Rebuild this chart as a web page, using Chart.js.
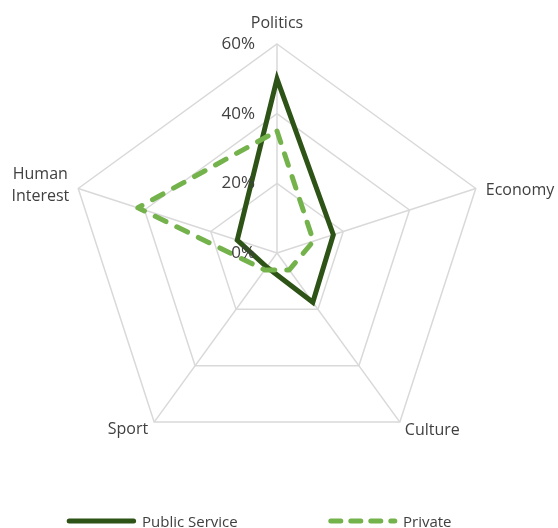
<!DOCTYPE html>
<html><head><meta charset="utf-8">
<script src="https://cdn.jsdelivr.net/npm/chart.js@4.4.0/dist/chart.umd.min.js"></script>
<style>html,body{margin:0;padding:0;background:#fff;}#wrap{width:558px;height:528px;position:relative;}</style>
</head><body><div id="wrap"><canvas id="c" width="558" height="528"></canvas></div>
<script>
const categories = ['Politics', 'Economy', 'Culture', 'Sport', ['Human', 'Interest']];
const publicService = [50, 17, 17.5, 5, 12];
const privateSector = [35, 11, 6, 6, 42];
const tickValues = [0, 20, 40, 60];
const tickLabels = ['0%', '20%', '40%', '60%'];
const seriesNames = ['Public Service', 'Private'];

const DARK = '#2e5316';
const LIGHT = '#74b24b';
const TEXT = '#404040';
const FONT = '"Open Sans", "Noto Sans", sans-serif';

const labelPlugin = {
  id: 'customLabels',
  afterDraw(chart) {
    const ctx = chart.ctx, s = chart.scales.r;
    ctx.save();
    ctx.fillStyle = TEXT;
    // tick labels, left of the vertical axis
    ctx.font = '17px ' + FONT;
    ctx.textAlign = 'right';
    ctx.textBaseline = 'middle';
    tickValues.forEach((v, i) => {
      const d = s.getDistanceFromCenterForValue(v);
      ctx.fillText(tickLabels[i], s.xCenter - 22, s.yCenter - d);
    });
    // point labels
    ctx.font = '16px ' + FONT;
    ctx.textBaseline = 'alphabetic';
    categories.forEach((lab, i) => {
      const p = s.getPointPosition(i, s.drawingArea);
      const lines = Array.isArray(lab) ? lab : [lab];
      const deg = ((s.getIndexAngle(i) * 180 / Math.PI) % 360 + 360) % 360;
      const lh = 22;
      if (deg < 1 || deg > 359) {
        ctx.textAlign = 'center';
        lines.forEach((t, k) => ctx.fillText(t, p.x, p.y - 16 - (lines.length - 1 - k) * lh));
      } else if (deg < 90) {
        ctx.textAlign = 'left';
        lines.forEach((t, k) => ctx.fillText(t, p.x + 10, p.y + 6.5 + (k - (lines.length - 1) / 2) * lh));
      } else if (deg < 180) {
        ctx.textAlign = 'left';
        lines.forEach((t, k) => ctx.fillText(t, p.x + 5, p.y + 13 + k * lh));
      } else if (deg < 270) {
        ctx.textAlign = 'right';
        lines.forEach((t, k) => ctx.fillText(t, p.x - 6, p.y + 12 + k * lh));
      } else {
        ctx.textAlign = 'center';
        const w = Math.max(...lines.map(t => ctx.measureText(t).width));
        const cx = p.x - 9 - w / 2;
        lines.forEach((t, k) => ctx.fillText(t, cx, p.y + 1.5 + (k - (lines.length - 1) / 2) * lh));
      }
    });
    // legend
    ctx.font = '15px ' + FONT;
    const ly = 521;
    const ds = chart.data.datasets;
    const items = [
      { ds: ds[1], x0: 69.2, x1: 133.6, tx: 142, dash: [] },
      { ds: ds[0], x0: 330.8, x1: 394.8, tx: 403, dash: [10, 10] }
    ];
    ctx.textAlign = 'left';
    items.forEach(it => {
      ctx.beginPath();
      ctx.lineWidth = it.ds.borderWidth;
      ctx.strokeStyle = it.ds.borderColor;
      ctx.lineCap = 'round';
      ctx.setLineDash(it.dash);
      ctx.moveTo(it.x0, ly);
      ctx.lineTo(it.x1, ly);
      ctx.stroke();
      ctx.setLineDash([]);
      ctx.fillStyle = TEXT;
      ctx.fillText(it.ds.label, it.tx, 527);
    });
    ctx.restore();
  }
};

new Chart(document.getElementById('c'), {
  type: 'radar',
  data: {
    labels: categories,
    datasets: [
      {
        label: seriesNames[1], data: privateSector, order: 0,
        borderColor: LIGHT, borderWidth: 5, borderDash: [12, 12], borderCapStyle: 'round',
        borderJoinStyle: 'round', fill: false, pointRadius: 0, pointHoverRadius: 0, tension: 0
      },
      {
        label: seriesNames[0], data: publicService, order: 1,
        borderColor: DARK, borderWidth: 5, borderJoinStyle: 'miter', fill: false,
        pointRadius: 0, pointHoverRadius: 0, tension: 0
      }
    ]
  },
  options: {
    responsive: false,
    devicePixelRatio: 1,
    animation: false,
    layout: { padding: { left: 68, right: 72, top: 44, bottom: 66 } },
    plugins: { legend: { display: false }, tooltip: { enabled: false } },
    scales: {
      r: {
        min: 0, max: 60,
        ticks: { stepSize: 20, display: false },
        grid: { color: '#d9d9d9', lineWidth: 1.5, circular: false },
        angleLines: { color: '#d9d9d9', lineWidth: 1.5 },
        pointLabels: { display: false }
      }
    }
  },
  plugins: [labelPlugin]
});
</script></body></html>
